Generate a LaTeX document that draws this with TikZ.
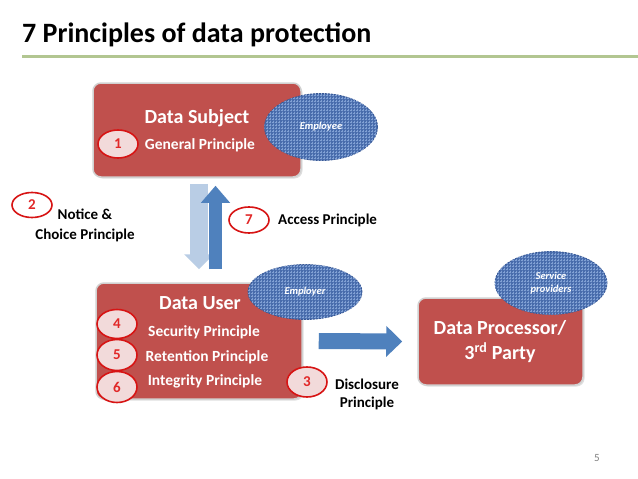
\documentclass[tikz,border=0pt]{standalone}
\usepackage{fontspec}
\setmainfont{Carlito}
\usetikzlibrary{patterns.meta,shapes.geometric,arrows.meta,shadows,calc}
\definecolor{boxred}{RGB}{192,80,77}
\definecolor{numred}{RGB}{225,40,40}
\definecolor{ringred}{RGB}{215,20,20}
\definecolor{pinkfill}{RGB}{242,218,218}
\definecolor{ellblue}{RGB}{72,108,172}
\definecolor{ellgrid}{RGB}{128,160,212}
\definecolor{elledge}{RGB}{55,88,150}
\definecolor{arrdark}{RGB}{79,129,189}
\definecolor{arrlight}{RGB}{185,205,229}
\definecolor{titleline}{RGB}{178,198,145}
\begin{document}
\begin{tikzpicture}[x=1pt,y=-1pt,
  redbox/.style={rectangle, rounded corners=8pt, fill=boxred, draw=white!82!black, line width=1.5pt,
    drop shadow={shadow xshift=1.5pt, shadow yshift=-1.5pt, opacity=0.25}, inner sep=0pt},
  cloudell/.style={ellipse, fill=ellblue, draw=elledge, dash pattern=on 2pt off 1pt, line width=0.8pt,
    postaction={pattern={Lines[distance=3pt, angle=0, line width=0.7pt]}, pattern color=ellgrid},
    postaction={pattern={Lines[distance=3pt, angle=90, line width=0.7pt]}, pattern color=ellgrid},
    inner sep=0pt, text=white,
    font=\bfseries\itshape\fontsize{10.5}{13}\selectfont, align=center},
  numc/.style={ellipse, draw=ringred, line width=1.6pt, inner sep=0pt, text=numred,
    font=\bfseries\fontsize{15}{15}\selectfont},
  pinknum/.style={numc, fill=pinkfill},
  whitenum/.style={numc, fill=white},
  head/.style={text=white, font=\bfseries\fontsize{20}{25}\selectfont, inner sep=0pt, align=center},
  wlab/.style={text=white, font=\bfseries\fontsize{15.5}{18}\selectfont, inner sep=0pt},
  blab/.style={text=black, font=\bfseries\fontsize{15}{20}\selectfont, inner sep=0pt, align=center},
  blockarrow/.style={line cap=butt}
]
\useasboundingbox (0,0) rectangle (638,479);
\fill[white] (0,0) rectangle (638,479);

% title
\node[anchor=base west, font=\bfseries\fontsize{28}{30}\selectfont, inner sep=0pt] (title) at (22,42) {7 Principles of data protection};
\coordinate (lineA) at (22,56.5);
\coordinate (lineB) at (638,56.5);
\draw[titleline, line width=2.5pt] (lineA) -- (lineB);

% boxes
\node[redbox, minimum width=208, minimum height=94] (subj) at (197,130) {};
\node[redbox, minimum width=206, minimum height=116] (user) at (199,341) {};
\node[redbox, minimum width=165, minimum height=87] (proc) at (500.5,341.5) {};

% arrows between subject and user
\draw[blockarrow, arrlight, line width=18pt, -{Triangle[width=29pt,length=15pt]}]
  ($(subj.south)+(2,6)$) -- ($(user.north)+(0,-13)$);
\draw[blockarrow, arrdark, line width=13pt, -{Triangle[width=28pt,length=17pt]}]
  ($(user.north)+(16.5,-13)$) -- ($(subj.south)+(18.5,8)$);
% arrow user -> processor
\draw[blockarrow, arrdark, line width=16pt, -{Triangle[width=30pt,length=16pt]}]
  ($(user.east)+(16,0)$) -- ($(proc.west)+(-15,0)$);

% Data subject texts
\node[head] (subjt) at (197,118) {Data Subject};
\node[wlab] (gp) at (200,145) {General Principle};
\node[pinknum, minimum width=40, minimum height=28] (n1) at (118,144) {1};
\node[cloudell, minimum width=113, minimum height=67] (employee) at (321,127) {Employee};

% notice & choice
\node[whitenum, minimum width=40, minimum height=25] (n2) at (32,205) {2};
\node[blab] (notice) at (85,225) {Notice \&\\Choice Principle};

% access
\node[whitenum, minimum width=40, minimum height=26] (n7) at (249,220) {7};
\node[blab, anchor=west] (access) at (278,220) {Access Principle};

% Data user texts
\node[head] (usert) at (200,303) {Data User};
\node[wlab] (sec) at (204,332) {Security Principle};
\node[wlab] (ret) at (207,357) {Retention Principle};
\node[wlab] (integ) at (205,381) {Integrity Principle};
\node[pinknum, minimum width=40, minimum height=31] (n6) at (117,387) {6};
\node[pinknum, minimum width=40, minimum height=31] (n5) at (117,355) {5};
\node[pinknum, minimum width=40, minimum height=29] (n4) at (117,324) {4};
\node[cloudell, minimum width=114, minimum height=55] (employer) at (305,292) {Employer};

% disclosure
\node[pinknum, minimum width=40, minimum height=30] (n3) at (307,382) {3};
\node[blab, font=\bfseries\fontsize{15}{18}\selectfont] (discl) at (367,394) {Disclosure\\Principle};

% processor
\node[head] (proct) at (500,342) {Data Processor/\\3\textsuperscript{rd} Party};
\node[cloudell, minimum width=112, minimum height=63] (service) at (551,283) {Service\\providers};

% page number
\node[text=gray, font=\fontsize{11}{11}\selectfont, inner sep=0pt] (pg) at (597,458) {5};
\end{tikzpicture}
\end{document}
